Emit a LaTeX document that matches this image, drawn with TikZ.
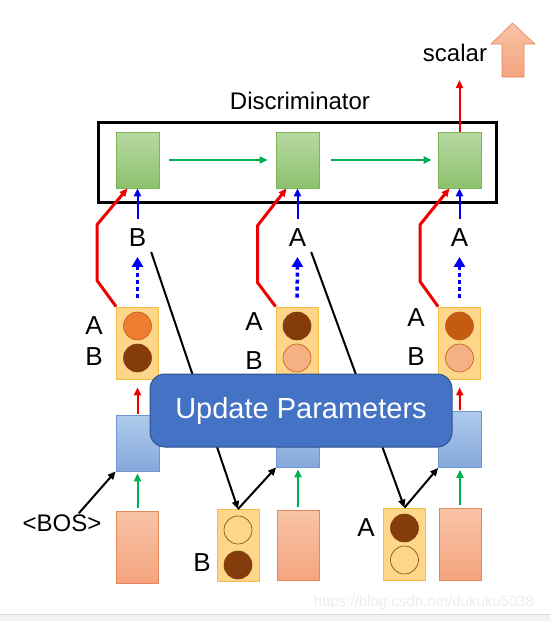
\documentclass[tikz,border=0pt]{standalone}
\usepackage{fontspec}
\setmainfont{Liberation Sans}
\usetikzlibrary{arrows.meta,calc}

\definecolor{disctop}{HTML}{B7D9A3}
\definecolor{discbot}{HTML}{8DC16C}
\definecolor{discedge}{HTML}{7CB55A}
\definecolor{gentop}{HTML}{AECBEC}
\definecolor{genbot}{HTML}{86A9DC}
\definecolor{genedge}{HTML}{6F97CE}
\definecolor{embtop}{HTML}{F8C3A6}
\definecolor{embbot}{HTML}{F4A47E}
\definecolor{embedge}{HTML}{E5895A}
\definecolor{tokfill}{HTML}{FDD68A}
\definecolor{tokedge}{HTML}{F2BC45}
\definecolor{tokA}{HTML}{ED7D31}
\definecolor{tokAd}{HTML}{C55A11}
\definecolor{tokB}{HTML}{843C0C}
\definecolor{toklight}{HTML}{F4B183}
\definecolor{updfill}{HTML}{4472C4}
\definecolor{updedge}{HTML}{2F528F}
\definecolor{flowgreen}{HTML}{00B050}
\definecolor{flowred}{HTML}{EE0000}
\definecolor{flowblue}{HTML}{0000F0}

\begin{document}
\begin{tikzpicture}[x=1pt, y=-1pt,
  discbox/.style={draw=discedge, line width=0.8pt, top color=disctop, bottom color=discbot, minimum width=43pt, minimum height=56pt, inner sep=0pt},
  genbox/.style={draw=genedge, line width=0.8pt, top color=gentop, bottom color=genbot, minimum width=43pt, minimum height=56pt, inner sep=0pt},
  embbox/.style={draw=embedge, line width=0.8pt, top color=embtop, bottom color=embbot, minimum width=42pt, minimum height=72pt, inner sep=0pt},
  tokbox/.style={draw=tokedge, line width=0.8pt, fill=tokfill, minimum width=42pt, minimum height=72pt, inner sep=0pt},
  tokdot/.style={circle, draw=tokAd, line width=0.6pt, minimum size=28pt, inner sep=0pt},
  lbl/.style={font=\fontsize{26}{30}\selectfont, inner sep=1pt},
  toplbl/.style={lbl, outer sep=9pt},
  redarrow/.style={flowred, line width=2pt, -{Triangle[length=8pt,width=7pt]}},
  greenarrow/.style={flowgreen, line width=2pt, -{Triangle[length=8pt,width=7pt]}},
  bluearrow/.style={flowblue, line width=2pt, -{Triangle[length=8pt,width=7pt]}},
  dotarrow/.style={flowblue, line width=3.5pt, dash pattern=on 4pt off 3pt, -{Triangle[length=10pt,width=11pt]}},
  redpath/.style={flowred, line width=3pt, -{Triangle[length=8pt,width=7pt]}},
  blackarrow/.style={black, line width=2pt, -{Triangle[length=8pt,width=7pt]}}
]
  \useasboundingbox (0,0) rectangle (550,621);
  % bottom strip
  \fill[gray!10] (0,614) rectangle (550,621);
  \draw[gray!30, line width=1pt] (0,614) -- (550,614);
  \node[font=\fontsize{15}{18}\selectfont, text=gray!15] (wm) at (424,603) {https://blog.csdn.net/dukuku5038};

  % discriminator
  \node[font=\fontsize{24}{28}\selectfont] (dtitle) at (300,101) {Discriminator};
  \draw[black, line width=3pt] (98,122) rectangle (496,202);
  \node[discbox] (d1) at (137.5,160) {};
  \node[discbox] (d2) at (297.5,160) {};
  \node[discbox] (d3) at (459.5,160) {};
  \draw[greenarrow, shorten <=10pt, shorten >=8pt] (d1.east) -- (d2.west);
  \draw[greenarrow, shorten <=12pt, shorten >=6pt] (d2.east) -- (d3.west);

  % output
  \coordinate (out) at (459.5,80);
  \draw[redarrow] (d3.north) -- (out);
  \node[font=\fontsize{24}{28}\selectfont, anchor=base] (scalar) at (455,61) {scalar};
  \draw[draw=embedge, line width=0.6pt, top color=embtop, bottom color=embbot]
    (502,77) -- (502,44) -- (491,44) -- (512.5,23) -- (535,44) -- (524,44) -- (524,77) -- cycle;

  % sampled labels
  \node[toplbl] (s1) at (137.5,238) {B};
  \node[toplbl] (s2) at (297.5,238) {A};
  \node[toplbl] (s3) at (459.5,238) {A};
  \draw[bluearrow] (s1.north) -- (d1.south);
  \draw[bluearrow] (s2.north) -- (d2.south);
  \draw[bluearrow] (s3.north) -- (d3.south);

  % token distributions
  \node[tokbox] (t1) at (137.5,343) {};
  \node[tokdot, fill=tokA] (t1a) at (137.5,326) {};
  \node[tokdot, fill=tokB, draw=tokB] (t1b) at (137.5,358) {};
  \node[lbl] (t1la) at (94,326) {A};
  \node[lbl] (t1lb) at (94,357) {B};

  \node[tokbox] (t2) at (297,343) {};
  \node[tokdot, fill=tokB, draw=tokB] (t2a) at (297,326) {};
  \node[tokdot, fill=toklight] (t2b) at (297,358) {};
  \node[lbl] (t2la) at (254,322) {A};
  \node[lbl] (t2lb) at (254,361) {B};

  \node[tokbox] (t3) at (459.5,343) {};
  \node[tokdot, fill=tokAd] (t3a) at (459.5,326) {};
  \node[tokdot, fill=toklight] (t3b) at (459.5,358) {};
  \node[lbl] (t3la) at (416,318) {A};
  \node[lbl] (t3lb) at (416,357) {B};

  \draw[dotarrow, shorten <=9pt, shorten >=0pt] (t1.north) -- (s1.south);
  \draw[dotarrow, shorten <=9pt, shorten >=0pt] (t2.north) -- (s2.south);
  \draw[dotarrow, shorten <=9pt, shorten >=0pt] (t3.north) -- (s3.south);

  \draw[redpath] (t1.north west) -- ++(-19,-26) -- ++(0,-56) -- ([xshift=-10pt]d1.south);
  \draw[redpath] (t2.north west) -- ++(-18,-24) -- ++(0,-57) -- ([xshift=-11pt]d2.south);
  \draw[redpath] (t3.north west) -- ++(-18,-25) -- ++(0,-57) -- ([xshift=-10pt]d3.south);

  % generator
  \node[genbox] (g1) at (137.5,443) {};
  \node[genbox] (g2) at (298,439) {};
  \node[genbox] (g3) at (460,439.5) {};
  \draw[redarrow, shorten <=1pt, shorten >=8pt] (g1.north) -- (t1.south);
  \draw[redarrow, shorten <=1pt, shorten >=8pt] (g3.north) -- (t3.south);

  % embeddings
  \node[embbox] (e1) at (137.5,547) {};
  \node[embbox, minimum height=70pt] (e2) at (298,545) {};
  \node[embbox] (e3) at (460,544) {};
  \draw[greenarrow, shorten <=3pt, shorten >=2pt] (e1.north) -- (g1.south);
  \draw[greenarrow, shorten <=3pt, shorten >=2pt] (e2.north) -- (g2.south);
  \draw[greenarrow, shorten <=3pt, shorten >=2pt] (e3.north) -- (g3.south);

  \node[font=\fontsize{24}{28}\selectfont, inner sep=1pt] (bos) at (62,523) {<BOS>};
  \draw[blackarrow] (bos.30) -- (g1.south west);

  % sampled tokens
  \node[tokbox] (t4) at (238,545.5) {};
  \node[tokdot, fill=tokfill, draw=tokB] (t4a) at (238,530) {};
  \node[tokdot, fill=tokB, draw=tokB] (t4b) at (238,565) {};
  \node[lbl] (t4lb) at (202,563) {B};

  \node[tokbox] (t5) at (404.5,544) {};
  \node[tokdot, fill=tokB, draw=tokB] (t5a) at (404.5,528) {};
  \node[tokdot, fill=tokfill, draw=tokB] (t5b) at (404.5,560) {};
  \node[lbl] (t5la) at (366,528) {A};

  \draw[blackarrow] ([shift={(-5pt,5pt)}]s1.south east) -- (t4.north);
  \draw[blackarrow] (t4.north) -- (g2.south west);
  \draw[blackarrow] ([shift={(-5pt,5pt)}]s2.south east) -- (t5.north);
  \draw[blackarrow] (t5.north) -- (g3.south west);

  % update
  \node[draw=updedge, line width=1pt, fill=updfill, rounded corners=15pt, minimum width=302pt, minimum height=73pt, text=white, font=\fontsize{29}{34}\selectfont] (upd) at (301,410.5) {Update Parameters};
\end{tikzpicture}
\end{document}
